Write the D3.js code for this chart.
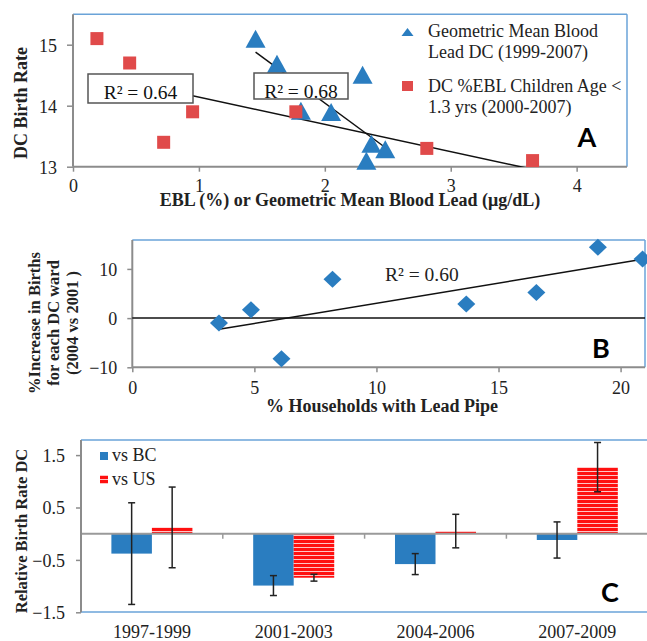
<!DOCTYPE html>
<html><head><meta charset="utf-8">
<script src="https://cdn.jsdelivr.net/npm/d3@7"></script>
<style>html,body{margin:0;padding:0;background:#fff}svg{display:block}</style>
</head><body>
<script>
// ---------- Panel A data ----------
const eblX = [0.19, 0.45, 0.72, 0.95, 1.77, 2.81, 3.65];
const eblY = [15.1, 14.7, 13.4, 13.9, 13.9, 13.3, 13.1];
const gmX = [1.45, 1.62, 1.81, 2.05, 2.30, 2.37, 2.48, 2.33];
const gmY = [15.08, 14.67, 13.9, 13.88, 14.49, 13.36, 13.27, 13.08];
const aXTicks = [0, 1, 2, 3, 4];
const aYTicks = [13, 14, 15];
const aR2 = ["R² = 0.64", "R² = 0.68"];
const aLegend = [["Geometric Mean Blood", "Lead DC (1999-2007)"], ["DC %EBL Children Age <", "1.3 yrs (2000-2007)"]];
const aXTitle = "EBL (%) or Geometric Mean Blood Lead (μg/dL)";
const aYTitle = "DC Birth Rate";
// ---------- Panel B data ----------
const pipeX = [3.55, 4.86, 6.11, 8.2, 13.68, 16.55, 19.07, 20.9];
const birthIncY = [-1, 1.69, -8.27, 7.9, 2.85, 5.2, 14.4, 12];
const bXTicks = [0, 5, 10, 15, 20];
const bYTicks = [-10, 0, 10];
const bR2 = "R² = 0.60";
const bXTitle = "% Households with Lead Pipe";
const bYTitle = ["%Increase in Births", "for each DC ward", "(2004 vs 2001 )"];
// ---------- Panel C data ----------
const periods = ["1997-1999", "2001-2003", "2004-2006", "2007-2009"];
const vsBC = [-0.38, -0.99, -0.58, -0.12];
const vsBCErr = [0.97, 0.19, 0.2, 0.345];
const vsUS = [0.12, -0.84, 0.05, 1.27];
const vsUSErr = [0.77, 0.065, 0.32, 0.47];
const cYTicks = [-1.5, -0.5, 0.5, 1.5];
const cSeries = ["vs BC", "vs US"];
const cYTitle = "Relative Birth Rate DC";

const BLUE = "#2a7dc0", RED = "#e04a4a", BORDER = "#6aa3d8", GRAY = "#8c8c8c";
const SERIF = "'Liberation Serif','Times New Roman',serif";
const SANS = "Lato,'Liberation Sans',Arial,sans-serif";

const svg = d3.select("body").append("svg").attr("width", 647).attr("height", 641);
svg.append("rect").attr("width", 647).attr("height", 641).attr("fill", "#fff");

const defs = svg.append("defs");
const pat = defs.append("pattern").attr("id", "stripes").attr("patternUnits", "userSpaceOnUse")
  .attr("width", 6).attr("height", 4);
pat.append("rect").attr("width", 6).attr("height", 4).attr("fill", "#ff1010");
pat.append("rect").attr("y", 3).attr("width", 6).attr("height", 1).attr("fill", "#ffc4c4");

function regression(xs, ys) {
  const mx = d3.mean(xs), my = d3.mean(ys);
  let sxy = 0, sxx = 0;
  xs.forEach((x, i) => { sxy += (x - mx) * (ys[i] - my); sxx += (x - mx) ** 2; });
  const b = sxy / sxx;
  return x => my + b * (x - mx);
}

function frame(g, x0, x1, y0, y1) {
  g.append("line").attr("x1", x0).attr("x2", x1).attr("y1", y0).attr("y2", y0).attr("stroke", BORDER).attr("stroke-width", 1.5);
  g.append("line").attr("x1", x1).attr("x2", x1).attr("y1", y0).attr("y2", y1).attr("stroke", BORDER).attr("stroke-width", 1.5);
}

// ================= PANEL A =================
{
  const x = d3.scaleLinear().domain([0, 4.4]).range([73, 627]);
  const y = d3.scaleLinear().domain([13, 15.5]).range([166.7, 14.2]);
  const g = svg.append("g");
  frame(g, 73, 627, 14.2, 166.7);
  const ax = g.append("g").attr("transform", "translate(0,166.7)")
    .call(d3.axisBottom(x).tickValues(aXTicks).tickSize(5).tickFormat(d3.format("d")));
  const ay = g.append("g").attr("transform", "translate(73,0)")
    .call(d3.axisLeft(y).tickValues(aYTicks).tickSize(6).tickPadding(10).tickFormat(d3.format("d")));
  [ax, ay].forEach(a => {
    a.select(".domain").attr("stroke", GRAY).attr("stroke-width", 2);
    a.selectAll(".tick line").attr("stroke", GRAY).attr("stroke-width", 1.5);
    a.selectAll("text").attr("font-family", SERIF).attr("font-size", 18).attr("fill", "#222");
  });
  ax.select(".domain").attr("d", `M73,0H627`);
  ax.selectAll("text").attr("y", 25.5).attr("dy", null);
  ay.select(".domain").attr("d", `M0,14.2V166.7`);
  ay.selectAll("text").attr("dy", "0.36em");

  defs.append("clipPath").attr("id", "clipA").append("rect").attr("x", 73).attr("y", 14).attr("width", 554).attr("height", 153);
  const fE = regression(eblX, eblY), fG = regression(gmX, gmY);
  const tl = g.append("g").attr("clip-path", "url(#clipA)");
  tl.append("line").attr("x1", x(d3.min(eblX))).attr("y1", y(fE(d3.min(eblX))))
    .attr("x2", x(d3.max(eblX))).attr("y2", y(fE(d3.max(eblX)))).attr("stroke", "#111").attr("stroke-width", 1.5);
  tl.append("line").attr("x1", x(d3.min(gmX))).attr("y1", y(fG(d3.min(gmX))))
    .attr("x2", x(d3.max(gmX))).attr("y2", y(fG(d3.max(gmX)))).attr("stroke", "#111").attr("stroke-width", 1.5);

  const tri = (cx, cy, w, h) => `M${cx},${cy - h / 2}L${cx + w / 2},${cy + h / 2}L${cx - w / 2},${cy + h / 2}Z`;
  g.selectAll(".tri").data(gmX).join("path").attr("class", "tri")
    .attr("d", (d, i) => tri(x(d), y(gmY[i]) - 1, 20, 18)).attr("fill", BLUE);
  g.selectAll(".sq").data(eblX).join("rect").attr("class", "sq")
    .attr("x", d => x(d) - 6.5).attr("y", (d, i) => y(eblY[i]) - 6.5).attr("width", 13).attr("height", 13).attr("fill", RED);

  const boxes = [[88, 74, 105, 29, 99], [254, 73, 94, 26, 98]];
  boxes.forEach((b, i) => {
    g.append("rect").attr("x", b[0]).attr("y", b[1]).attr("width", b[2]).attr("height", b[3])
      .attr("fill", "#fff").attr("stroke", "#555").attr("stroke-width", 1.5);
    g.append("text").attr("x", b[0] + b[2] / 2).attr("y", b[4]).attr("text-anchor", "middle")
      .attr("font-family", SERIF).attr("font-size", 19.5).attr("fill", "#111").text(aR2[i]);
  });

  g.append("path").attr("d", tri(407.5, 32, 12, 8)).attr("fill", BLUE);
  g.append("rect").attr("x", 402).attr("y", 81).attr("width", 11).attr("height", 10).attr("fill", RED);
  const lb = [[37.3, 58.3], [91.5, 112.7]];
  aLegend.forEach((lines, i) => {
    lines.forEach((t, j) => {
      g.append("text").attr("x", 428).attr("y", lb[i][j]).attr("font-family", SERIF).attr("font-size", 18)
        .attr("fill", "#222").text(t);
    });
  });
  g.append("text").attr("x", 587).attr("y", 147).attr("text-anchor", "middle").attr("font-family", SANS)
    .attr("font-weight", "bold").attr("font-size", 27).attr("fill", "#000").text("A");
  g.append("text").attr("x", 350).attr("y", 206).attr("text-anchor", "middle").attr("font-family", SERIF)
    .attr("font-weight", "bold").attr("font-size", 18).attr("fill", "#222").text(aXTitle);
  g.append("text").attr("transform", "translate(26.5,103) rotate(-90)").attr("text-anchor", "middle")
    .attr("font-family", SERIF).attr("font-weight", "bold").attr("font-size", 18).attr("fill", "#222").text(aYTitle);
}

// ================= PANEL B =================
{
  const x = d3.scaleLinear().domain([0, 21]).range([132.3, 645]);
  const y = d3.scaleLinear().domain([-10, 16]).range([367.3, 239.4]);
  const g = svg.append("g");
  frame(g, 132.3, 645, 240, 367.3);
  const ax = g.append("g").attr("transform", "translate(0,367.3)")
    .call(d3.axisBottom(x).tickValues(bXTicks).tickSize(5).tickFormat(d3.format("d")));
  const ay = g.append("g").attr("transform", "translate(132.3,0)")
    .call(d3.axisLeft(y).tickValues(bYTicks).tickSize(5).tickPadding(10).tickFormat(d3.format("d")));
  [ax, ay].forEach(a => {
    a.select(".domain").attr("stroke", GRAY).attr("stroke-width", 2);
    a.selectAll(".tick line").attr("stroke", GRAY).attr("stroke-width", 1.5);
    a.selectAll("text").attr("font-family", SERIF).attr("font-size", 18).attr("fill", "#222");
  });
  ax.select(".domain").attr("d", `M132.3,0H645`);
  ax.selectAll("text").attr("y", 27).attr("dy", null);
  ay.select(".domain").attr("d", `M0,240V367.3`);
  ay.selectAll("text").attr("dy", "0.36em");
  g.append("line").attr("x1", x(0)).attr("x2", x(21)).attr("y1", y(0)).attr("y2", y(0)).attr("stroke", "#111").attr("stroke-width", 1.5);
  const f = regression(pipeX, birthIncY);
  g.append("line").attr("x1", x(d3.min(pipeX))).attr("y1", y(f(d3.min(pipeX))))
    .attr("x2", x(d3.max(pipeX))).attr("y2", y(f(d3.max(pipeX)))).attr("stroke", "#111").attr("stroke-width", 1.5);
  g.selectAll(".dm").data(pipeX).join("path").attr("class", "dm")
    .attr("d", (d, i) => { const cx = x(d), cy = y(birthIncY[i]); return `M${cx},${cy - 8.5}L${cx + 9},${cy}L${cx},${cy + 8.5}L${cx - 9},${cy}Z`; })
    .attr("fill", BLUE);
  g.append("text").attr("x", 385).attr("y", 281).attr("font-family", SERIF).attr("font-size", 19.5).attr("fill", "#222").text(bR2);
  g.append("text").attr("x", 601).attr("y", 358).attr("text-anchor", "middle").attr("font-family", SANS)
    .attr("font-weight", "bold").attr("font-size", 27).attr("fill", "#000").text("B");
  g.append("text").attr("x", 382).attr("y", 412).attr("text-anchor", "middle").attr("font-family", SERIF)
    .attr("font-weight", "bold").attr("font-size", 18).attr("fill", "#222").text(bXTitle);
  const bx = [40, 59, 77.5];
  bYTitle.forEach((t, i) => {
    g.append("text").attr("transform", `translate(${bx[i]},323) rotate(-90)`).attr("text-anchor", "middle")
      .attr("font-family", SERIF).attr("font-weight", "bold").attr("font-size", 16.5).attr("fill", "#222").text(t);
  });
}

// ================= PANEL C =================
{
  const x = d3.scaleBand().domain(periods).range([81, 648.2]).padding(0);
  const y = d3.scaleLinear().domain([-1.5, 1.79]).range([612.3, 439.9]);
  const g = svg.append("g");
  g.append("line").attr("x1", 81).attr("x2", 647).attr("y1", 440).attr("y2", 440).attr("stroke", BORDER).attr("stroke-width", 1.5);
  g.append("line").attr("x1", 81).attr("x2", 647).attr("y1", 612).attr("y2", 612).attr("stroke", BORDER).attr("stroke-width", 1.5);
  const bw = x.bandwidth() / 3.5;
  const series = [{ v: vsBC, e: vsBCErr, off: -bw, fill: BLUE }, { v: vsUS, e: vsUSErr, off: 0, fill: "url(#stripes)" }];
  series.forEach(s => {
    g.selectAll(null).data(periods).join("rect")
      .attr("x", d => x(d) + x.bandwidth() / 2 + s.off)
      .attr("y", (d, i) => y(Math.max(0, s.v[i])))
      .attr("width", bw)
      .attr("height", (d, i) => Math.abs(y(s.v[i]) - y(0)))
      .attr("fill", s.fill);
  });
  g.append("line").attr("x1", 81).attr("x2", 647).attr("y1", y(0)).attr("y2", y(0)).attr("stroke", "#9a9a9a").attr("stroke-width", 2);
  periods.slice(1).forEach(p => {
    g.append("line").attr("x1", x(p)).attr("x2", x(p)).attr("y1", y(0)).attr("y2", y(0) + 5).attr("stroke", "#9a9a9a").attr("stroke-width", 1.5);
  });
  series.forEach(s => {
    periods.forEach((p, i) => {
      const cx = x(p) + x.bandwidth() / 2 + s.off + bw / 2;
      const t = y(s.v[i] + s.e[i]), b = y(s.v[i] - s.e[i]);
      g.append("line").attr("x1", cx).attr("x2", cx).attr("y1", t).attr("y2", b).attr("stroke", "#222").attr("stroke-width", 1.5);
      [t, b].forEach(yy => g.append("line").attr("x1", cx - 3.5).attr("x2", cx + 3.5).attr("y1", yy).attr("y2", yy).attr("stroke", "#222").attr("stroke-width", 1.5));
    });
  });
  const ay = g.append("g").attr("transform", "translate(81,0)")
    .call(d3.axisLeft(y).tickValues(cYTicks).tickSize(5).tickPadding(11).tickFormat(d3.format(".1f")));
  ay.select(".domain").attr("d", "M0,440V612.3").attr("stroke", GRAY).attr("stroke-width", 2);
  ay.selectAll(".tick line").attr("stroke", GRAY).attr("stroke-width", 1.5);
  ay.selectAll("text").attr("font-family", SERIF).attr("font-size", 18).attr("fill", "#222").attr("dy", "0.36em");
  g.selectAll(".cl").data(periods).join("text").attr("class", "cl")
    .attr("x", d => x(d) + x.bandwidth() / 2).attr("y", 638).attr("text-anchor", "middle")
    .attr("font-family", SERIF).attr("font-size", 18).attr("fill", "#222").text(d => d);
  g.append("rect").attr("x", 100).attr("y", 452).attr("width", 8).attr("height", 8).attr("fill", BLUE);
  g.append("rect").attr("x", 100).attr("y", 475).attr("width", 8).attr("height", 9).attr("fill", "url(#stripes)");
  g.append("text").attr("x", 112).attr("y", 461).attr("font-family", SERIF).attr("font-size", 18).attr("fill", "#222").text(cSeries[0]);
  g.append("text").attr("x", 112).attr("y", 485).attr("font-family", SERIF).attr("font-size", 18).attr("fill", "#222").text(cSeries[1]);
  g.append("text").attr("x", 610).attr("y", 602).attr("text-anchor", "middle").attr("font-family", SANS)
    .attr("font-weight", "bold").attr("font-size", 27).attr("fill", "#000").text("C");
  g.append("text").attr("transform", "translate(26.5,531) rotate(-90)").attr("text-anchor", "middle")
    .attr("font-family", SERIF).attr("font-weight", "bold").attr("font-size", 16.5).attr("fill", "#222").text(cYTitle);
}
</script>
</body></html>
